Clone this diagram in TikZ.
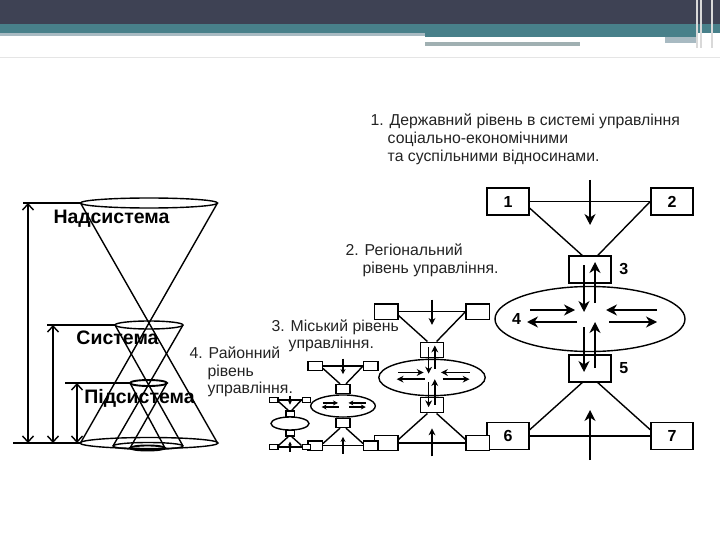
\documentclass[tikz,border=0pt]{standalone}
\usepackage{fontspec}
\setmainfont{Liberation Sans}
\usetikzlibrary{arrows.meta,shapes.geometric,positioning}
\definecolor{hdrdark}{RGB}{62,66,84}
\definecolor{hdrteal}{RGB}{72,128,138}
\definecolor{hdrline}{RGB}{168,186,194}
\definecolor{hdrgray}{RGB}{160,176,178}
\definecolor{inktext}{RGB}{35,35,35}
\tikzset{
  unitbox/.style={draw, fill=white, inner sep=0pt},
  unitoval/.style={draw, ellipse, inner sep=0pt},
  note/.style={anchor=base west, inner sep=0pt, text=inktext, font=\fontsize{15.8}{18}\selectfont},
  conelabel/.style={inner sep=0pt, font=\fontsize{19.5}{22}\selectfont\bfseries},
  boxnum/.style={inner sep=0pt, font=\fontsize{16}{18}\selectfont\bfseries},
  dimarrow/.style={{Straight Barb[length=6pt,width=11pt]}-{Straight Barb[length=6pt,width=11pt]}}
}
\begin{document}
\begin{tikzpicture}[x=1pt,y=-1pt,line width=1.4pt]
\useasboundingbox (0,0) rectangle (720,540);
% header bands
\fill[hdrdark] (0,0) rectangle (720,24);
\fill[hdrteal] (0,24) rectangle (720,33);
\fill[hdrline] (0,33) rectangle (425,36);
\fill[hdrteal] (425,33) rectangle (697,37);
\fill[hdrgray] (425,42) rectangle (580,46);
\fill[hdrline] (665,37) rectangle (697,43);
\draw[gray!30,line width=1.2pt] (697,0) -- (697,48) (701,0) -- (701,48) (712,0) -- (712,48);
\draw[gray!20,line width=0.8pt] (0,57) -- (720,57);
% cones
\draw (149,203) ellipse [x radius=68.5, y radius=5];
\draw (149,443) ellipse [x radius=69, y radius=5.5];
\draw (80.5,203) -- (217.5,443);
\draw (217.5,203) -- (80.5,443);
\draw (149,325) ellipse [x radius=34, y radius=4];
\draw (148,446) ellipse [x radius=35, y radius=3.5];
\draw (115,325) -- (183,446);
\draw (183,325) -- (113,446);
\draw[line width=1.9pt] (148.5,383) ellipse [x radius=18.5, y radius=3];
\draw[line width=1.9pt] (147.5,448) ellipse [x radius=17.5, y radius=2.5];
\draw (130,383) -- (165,448);
\draw (167,383) -- (130,448);
\draw (23,203) -- (80.5,203);
\draw (47,325) -- (115,325);
\draw (65,383) -- (130,383);
\draw (13,443) -- (80,443);
\draw[dimarrow] (28,203) -- (28,443);
\draw[dimarrow] (53,325) -- (53,443);
\draw[dimarrow] (77,383) -- (77,443);
\node[conelabel] (supsys) at (111.5,219) {Надсистема};
\node[conelabel] (sys) at (117.5,338) {Система};
\node[conelabel] (subsys) at (139.5,398) {Підсистема};
% levels of management
\foreach \p/\cx/\cy/\s/\tip/\inner in {a/590/319/1/1/2, b/432/377.5/0.56/0.62/2, c/343/406/0.34/0.45/1, d/290/423.5/0.2/0.35/0}{
  \begin{scope}[shift={(\cx,\cy)}, scale=\s,
    bw/.style={minimum width=\s*42pt, minimum height=\s*27pt},
    flow/.style={-{Stealth[length=11pt,width=11pt,inset=3.5pt,scale=\tip]}}]
    \node[unitbox,bw] (\p1) at (-82,-117.5) {};
    \node[unitbox,bw] (\p2) at (82,-117.5) {};
    \node[unitbox,bw] (\p3) at (0,-49.5) {};
    \node[unitoval, minimum width=\s*190pt, minimum height=\s*65pt] (\p4) at (0,0) {};
    \node[unitbox,bw] (\p5) at (0,49.5) {};
    \node[unitbox,bw] (\p6) at (-82,117) {};
    \node[unitbox,bw] (\p7) at (82,117) {};
    \coordinate (\p in) at (0,-139);
    \coordinate (\p out) at (0,141);
    \draw (\p1.east) -- (\p2.west);
    \draw (\p1.-17) -- (\p3.119);
    \draw (\p2.west) -- (\p3.61);
    \draw (\p6.east) -- (\p7.west);
    \draw (\p5.-119) -- (\p6.16);
    \draw (\p5.-61) -- (\p7.164);
    \draw[flow] (\p in) -- (0,-94);
    \draw[flow] (\p out) -- (0,91);
    \ifnum\inner>0
      \draw[flow] (-60,-9) -- (-15,-9);
      \draw[flow] (67,-9) -- (16,-9);
      \draw[flow] (-13,3) -- (-63,3);
      \draw[flow] (19,3) -- (67,3);
    \fi
    \ifnum\inner>1
      \draw[flow] (-6,-54) -- (-6,-7);
      \draw[flow] (5,-16) -- (5,-57);
      \draw[flow] (-6,8) -- (-6,53);
      \draw[flow] (5,49) -- (5,3);
    \fi
  \end{scope}
}
\node[boxnum] (n1) at (a1) {1};
\node[boxnum] (n2) at (a2) {2};
\node[boxnum, right=7pt of a3] (n3) {3};
\node[boxnum, right=17pt of a4.west] (n4) {4};
\node[boxnum, right=7pt of a5] (n5) {5};
\node[boxnum] (n6) at (a6) {6};
\node[boxnum] (n7) at (a7) {7};
% captions
\node[note] (t1a) at (370,126) {1. Державний рівень в системі управління};
\node[note] (t1b) at (387,144) {соціально-економічними};
\node[note] (t1c) at (387,162) {та суспільними відносинами.};
\node[note] (t2a) at (345,255) {2. Регіональний};
\node[note] (t2b) at (362,273) {рівень управління.};
\node[note] (t3a) at (271,331) {3. Міський рівень};
\node[note] (t3b) at (288,348) {управління.};
\node[note] (t4a) at (189,358) {4. Районний};
\node[note] (t4b) at (207,376) {рівень};
\node[note] (t4c) at (207,393) {управління.};
\end{tikzpicture}
\end{document}
